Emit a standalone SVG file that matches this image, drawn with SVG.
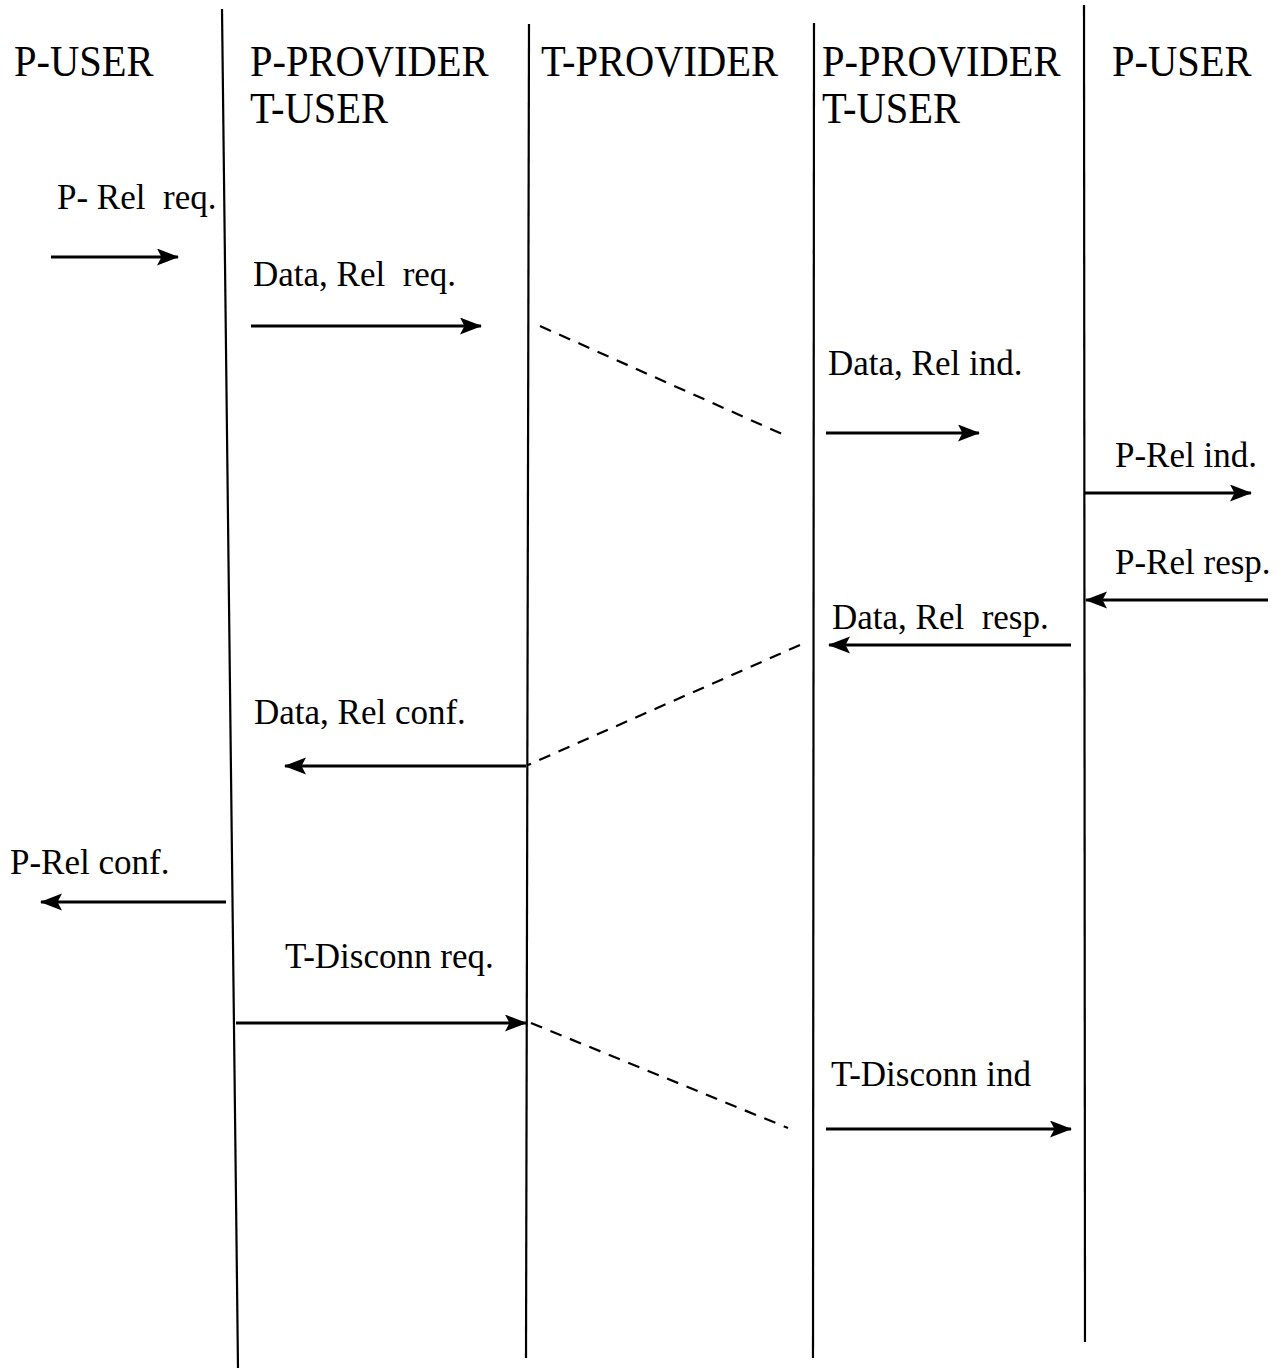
<svg xmlns="http://www.w3.org/2000/svg" width="1287" height="1369" viewBox="0 0 1287 1369">
  <style>
    text { white-space: pre; }
    .hdr { font-family: "Liberation Serif", "Times New Roman", serif; font-size: 45px; fill: #000; }
    .lbl { font-family: "Liberation Serif", "Times New Roman", serif; font-size: 35px; fill: #000; }
    .life { stroke: #000; stroke-width: 2.2; fill: none; }
    .msg { stroke: #000; stroke-width: 3; fill: none; marker-end: url(#head); }
    .dash { stroke: #000; stroke-width: 2.2; fill: none; stroke-dasharray: 12 9; }
  </style>
  <defs>
    <marker id="head" markerUnits="userSpaceOnUse" markerWidth="24" markerHeight="18" refX="21" refY="8.5" orient="auto">
      <path d="M0,0 L22,8.5 L0,17 L4.5,8.5 z" fill="#000"/>
    </marker>
  </defs>
  <rect width="1287" height="1369" fill="#fff"/>

  <!-- lifelines with their column headings (headings slightly condensed) -->
  <g id="p-user-left">
    <text class="hdr" transform="translate(14 76) scale(0.9 1)">P-USER</text>
  </g>
  <g id="p-provider-left">
    <line class="life" x1="222" y1="9" x2="238" y2="1368"/>
    <text class="hdr" transform="translate(250 76) scale(0.9 1)">P-PROVIDER</text>
    <text class="hdr" transform="translate(250 123) scale(0.9 1)">T-USER</text>
  </g>
  <g id="t-provider">
    <line class="life" x1="529" y1="24" x2="526" y2="1358"/>
    <text class="hdr" transform="translate(541 76) scale(0.9 1)">T-PROVIDER</text>
  </g>
  <g id="p-provider-right">
    <line class="life" x1="814" y1="23" x2="813" y2="1358"/>
    <text class="hdr" transform="translate(822 76) scale(0.9 1)">P-PROVIDER</text>
    <text class="hdr" transform="translate(822 123) scale(0.9 1)">T-USER</text>
  </g>
  <g id="p-user-right">
    <line class="life" x1="1084" y1="5" x2="1085" y2="1342"/>
    <text class="hdr" transform="translate(1112 76) scale(0.9 1)">P-USER</text>
  </g>

  <!-- primitive labels -->
  <g id="labels">
    <text class="lbl" x="57" y="209">P- Rel  req.</text>
    <text class="lbl" x="253" y="286">Data, Rel  req.</text>
    <text class="lbl" x="828" y="375">Data, Rel ind.</text>
    <text class="lbl" x="1115" y="467">P-Rel ind.</text>
    <text class="lbl" x="1115" y="574">P-Rel resp.</text>
    <text class="lbl" x="832" y="629">Data, Rel  resp.</text>
    <text class="lbl" x="254" y="724">Data, Rel conf.</text>
    <text class="lbl" x="10" y="874">P-Rel conf.</text>
    <text class="lbl" x="285" y="968">T-Disconn req.</text>
    <text class="lbl" x="831" y="1086">T-Disconn ind</text>
  </g>

  <!-- message arrows and transport propagation -->
  <g id="connectors">
    <line class="msg" x1="51" y1="257" x2="178" y2="257"/>
    <line class="msg" x1="251" y1="326" x2="481" y2="326"/>
    <line class="dash" x1="540" y1="326" x2="782" y2="434"/>
    <line class="msg" x1="826" y1="433" x2="979" y2="433"/>
    <line class="msg" x1="1085" y1="493" x2="1251" y2="493"/>
    <line class="msg" x1="1268" y1="600" x2="1086" y2="600"/>
    <line class="msg" x1="1071" y1="645" x2="829" y2="645"/>
    <line class="dash" x1="800" y1="645" x2="528" y2="765"/>
    <line class="msg" x1="526" y1="766" x2="285" y2="766"/>
    <line class="msg" x1="226" y1="902" x2="41" y2="902"/>
    <line class="msg" x1="236" y1="1023" x2="526" y2="1023"/>
    <line class="dash" x1="531" y1="1023" x2="788" y2="1128"/>
    <line class="msg" x1="826" y1="1129" x2="1071" y2="1129"/>
  </g>
</svg>
